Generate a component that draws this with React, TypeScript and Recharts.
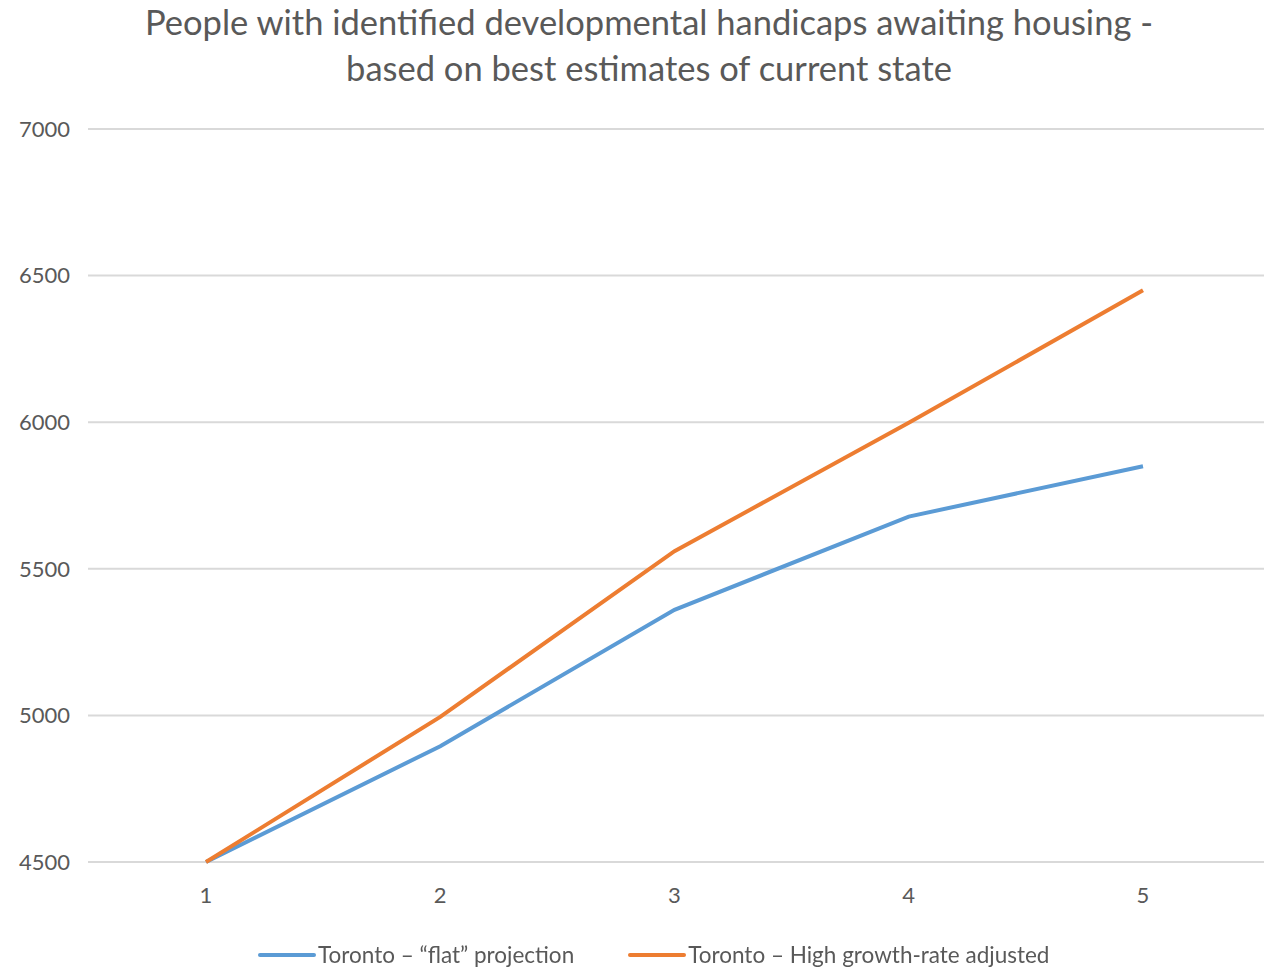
import React from 'react'
import { LineChart, Line, XAxis, YAxis, CartesianGrid } from 'recharts'

const years = ['1', '2', '3', '4', '5']
const flatProjection = [4500, 4895, 5360, 5678, 5850]
const highGrowth = [4500, 4995, 5560, 5998, 6450]
const yTicks = [4500, 5000, 5500, 6000, 6500, 7000]

const seriesNames = ['Toronto – “flat” projection', 'Toronto – High growth-rate adjusted']
const colors = ['#5B9BD5', '#ED7D31']

const font = "Lato, 'Open Sans', sans-serif"
const textColor = '#595959'

export default function App() {
  const data = years.map((y, i) => ({
    year: y,
    flat: flatProjection[i],
    high: highGrowth[i],
  }))

  return (
    <div style={{ position: 'fixed', left: 0, top: 0, width: 1269, height: 967, background: '#fff', fontFamily: font }}>
      <div
        style={{
          position: 'absolute',
          top: -1,
          left: 0,
          width: 1298,
          textAlign: 'center',
          fontSize: 34.5,
          lineHeight: '46px',
          color: textColor,
        }}
      >
        People with identified developmental handicaps awaiting housing -
        <br />
        based on best estimates of current state
      </div>
      <LineChart width={1269} height={967} data={data} margin={{ top: 129, right: 5, bottom: 65, left: 0 }}>
        <CartesianGrid vertical={false} stroke="#d9d9d9" strokeWidth={2} />
        <XAxis
          dataKey="year"
          axisLine={false}
          tickLine={false}
          tickSize={0}
          tickMargin={25}
          height={40}
          padding={{ left: 118, right: 121 }}
          tick={{ fill: textColor, fontSize: 22, fontFamily: font }}
        />
        <YAxis
          domain={[4500, 7000]}
          ticks={yTicks}
          axisLine={false}
          tickLine={false}
          tickSize={0}
          tickMargin={18}
          width={88}
          tick={{ fill: textColor, fontSize: 22, fontFamily: font }}
        />
        <Line
          type="linear"
          dataKey="flat"
          stroke={colors[0]}
          strokeWidth={4}
          dot={false}
          isAnimationActive={false}
        />
        <Line
          type="linear"
          dataKey="high"
          stroke={colors[1]}
          strokeWidth={4}
          dot={false}
          isAnimationActive={false}
        />
      </LineChart>
      <div
        style={{
          position: 'absolute',
          top: 941,
          left: 258,
          display: 'flex',
          fontSize: 22.5,
          color: textColor,
          gap: 54,
          whiteSpace: 'nowrap',
        }}
      >
        {seriesNames.map((name, i) => (
          <div key={name} style={{ display: 'flex', alignItems: 'center' }}>
            <span style={{ display: 'inline-block', width: 58, height: 4, borderRadius: 2, background: colors[i], marginRight: 2 }} />
            <span>{name}</span>
          </div>
        ))}
      </div>
    </div>
  )
}
